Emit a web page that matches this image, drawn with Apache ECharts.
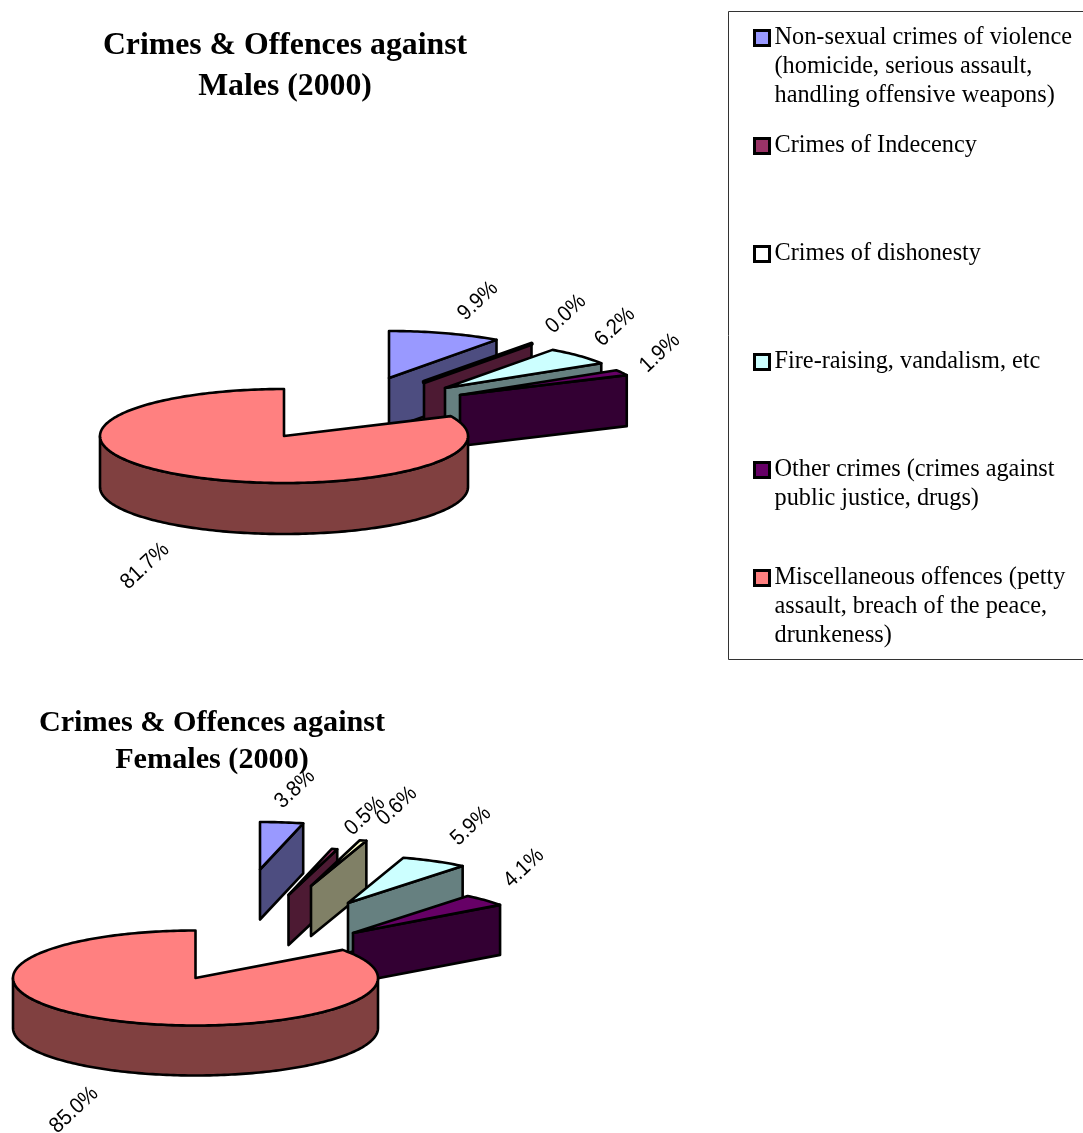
<!DOCTYPE html>
<html>
<head>
<meta charset="utf-8">
<style>html,body{margin:0;padding:0;background:#fff;overflow:hidden}#chart{width:1083px;height:1133px}</style>
<script src="https://cdn.jsdelivr.net/npm/echarts@6/dist/echarts.min.js"></script>
</head>
<body>
<div id="chart"></div>
<script>
// Offence categories and their percentage shares for 2000.
const categories = [
  'Non-sexual crimes of violence\n(homicide, serious assault,\nhandling offensive weapons)',
  'Crimes of Indecency',
  'Crimes of dishonesty',
  'Fire-raising, vandalism, etc',
  'Other crimes (crimes against\npublic justice, drugs)',
  'Miscellaneous offences (petty\nassault, breach of the peace,\ndrunkeness)'
];
const maleValues = [9.9, 0.0, null, 6.2, 1.9, 81.7];
const femaleValues = [3.8, 0.5, 0.6, 5.9, 4.1, 85.0];
const titles = ['Crimes & Offences against\nMales (2000)', 'Crimes & Offences against\nFemales (2000)'];

const colours = ['#9999ff', '#993366', '#ffffcc', '#ccffff', '#660066', '#ff8080'];
// The legend swatch for a category with no male slice stays blank.
const swatches = ['#9999ff', '#993366', '#ffffff', '#ccffff', '#660066', '#ff8080'];

// Projection of each tilted pie: centre, ellipse radii, wall height,
// per-slice explosion offset and label anchor.
const pieLayouts = [
  {
    values: maleValues, cx: 284, cy: 436, rx: 184, ry: 47, depth: 51,
    explode: [[105, -58], [140, -54], [0, 0], [161, -48], [176, -41], [0, 0]],
    labels: [[478, 301], [566, 314], null, [615, 327], [660, 353], [145, 566]]
  },
  {
    values: femaleValues, cx: 195.5, cy: 978, rx: 182.5, ry: 47.5, depth: 50,
    explode: [[64.5, -108.5], [93, -83], [115.5, -92], [152.5, -75], [157.5, -45], [0, 0]],
    labels: [[295, 789], [365, 816], [397, 806], [471, 826], [524, 868], [74, 1110]]
  }
];

function halfTone(hex) {
  const n = parseInt(hex.slice(1), 16);
  const ch = s => Math.round(((n >> s) & 255) / 2);
  return 'rgb(' + ch(16) + ',' + ch(8) + ',' + ch(0) + ')';
}

// Slice angle range, in radians clockwise from twelve o'clock.
function sliceAngles(values, idx) {
  const total = values.reduce((a, b) => a + (b || 0), 0);
  let before = 0;
  for (let i = 0; i < idx; i++) before += values[i] || 0;
  return [before / total * Math.PI * 2, (before + values[idx]) / total * Math.PI * 2];
}

function renderSlice(catIndex, params) {
  const pie = pieLayouts[params.dataIndex];
  const value = pie.values[catIndex];
  if (value === null) return null;

  const [start, end] = sliceAngles(pie.values, catIndex);
  const ax = pie.cx + pie.explode[catIndex][0];
  const ay = pie.cy + pie.explode[catIndex][1];
  const rim = t => [ax + pie.rx * Math.sin(t), ay - pie.ry * Math.cos(t)];
  const drop = p => [p[0], p[1] + pie.depth];
  const arc = (a, b) => {
    const n = Math.max(1, Math.ceil((b - a) / 0.02));
    const pts = [];
    for (let i = 0; i <= n; i++) pts.push(rim(a + (b - a) * i / n));
    return pts;
  };

  const top = colours[catIndex];
  const side = halfTone(top);
  const edge = { stroke: '#000', lineWidth: 2.6, lineJoin: 'round' };
  const poly = (points, fill, width) => ({
    type: 'polygon', shape: { points },
    style: Object.assign({ fill }, edge, width ? { lineWidth: width } : null)
  });
  const children = [];

  // Radial cut faces turned towards the viewer.
  if (end > 0 && end < Math.PI) {
    const p = rim(end);
    children.push(poly([[ax, ay], p, drop(p), [ax, ay + pie.depth]], side));
  }
  if (start > Math.PI && start < Math.PI * 2) {
    const p = rim(start);
    children.push(poly([[ax, ay], p, drop(p), [ax, ay + pie.depth]], side));
  }
  // Outer wall: only the front half of the rim shows.
  const wallFrom = Math.max(start, Math.PI / 2);
  const wallTo = Math.min(end, Math.PI * 1.5);
  if (wallTo > wallFrom) {
    const upper = arc(wallFrom, wallTo);
    children.push(poly(upper.concat(upper.map(drop).reverse()), side));
  }
  // Top face; a zero-sweep slice collapses to a heavier edge.
  children.push(poly([[ax, ay]].concat(arc(start, end)), top, end === start ? 4.6 : 0));

  const lab = pie.labels[catIndex];
  children.push({
    type: 'text', x: lab[0], y: lab[1], rotation: 43 * Math.PI / 180, scaleX: 0.92,
    style: {
      text: value.toFixed(1) + '%', fill: '#000', align: 'center', verticalAlign: 'middle',
      font: '22px "Liberation Sans", Arial, sans-serif'
    }
  });
  return { type: 'group', children };
}

// Every legend entry is padded to five lines so its first real line sits on the swatch.
function legendLabel(name) {
  const lines = name.split('\n');
  while (lines.length < 3) lines.push('');
  return '\n\n' + lines.join('\n');
}

const chart = echarts.init(document.getElementById('chart'), null, { renderer: 'canvas' });
chart.setOption({
  animation: false,
  backgroundColor: '#fff',
  title: [
    { text: titles[0], left: 285, top: 25, padding: 0, textAlign: 'center',
      textStyle: { fontFamily: '"Liberation Serif"', fontWeight: 'bold', fontSize: 31.75, lineHeight: 41.5, color: '#000' } },
    { text: titles[1], left: 212, top: 705, padding: 0, textAlign: 'center',
      textStyle: { fontFamily: '"Liberation Serif"', fontWeight: 'bold', fontSize: 30.2, lineHeight: 37, color: '#000' } }
  ],
  graphic: [{
    type: 'rect', shape: { x: 728.5, y: 11.5, width: 400, height: 648 }, z: -1,
    style: { fill: '#fff', stroke: '#333', lineWidth: 1 }
  }],
  legend: {
    orient: 'vertical', left: 753, top: -35.5, padding: 0,
    itemWidth: 15, itemHeight: 15, itemGap: -39, selectedMode: false,
    icon: 'rect',
    data: categories.map((name, i) => ({ name, itemStyle: { color: swatches[i] } })),
    formatter: legendLabel,
    itemStyle: { borderColor: '#000', borderWidth: 3 },
    textStyle: { fontFamily: '"Liberation Serif"', fontSize: 24.3, lineHeight: 29, color: '#000', padding: [2, 0, 0, 0] }
  },
  series: categories.map((name, i) => ({
    type: 'custom',
    name,
    coordinateSystem: 'none',
    clip: false,
    itemStyle: { color: colours[i] },
    data: [[maleValues[i]], [femaleValues[i]]],
    renderItem: params => renderSlice(i, params)
  }))
});
</script>
</body>
</html>
